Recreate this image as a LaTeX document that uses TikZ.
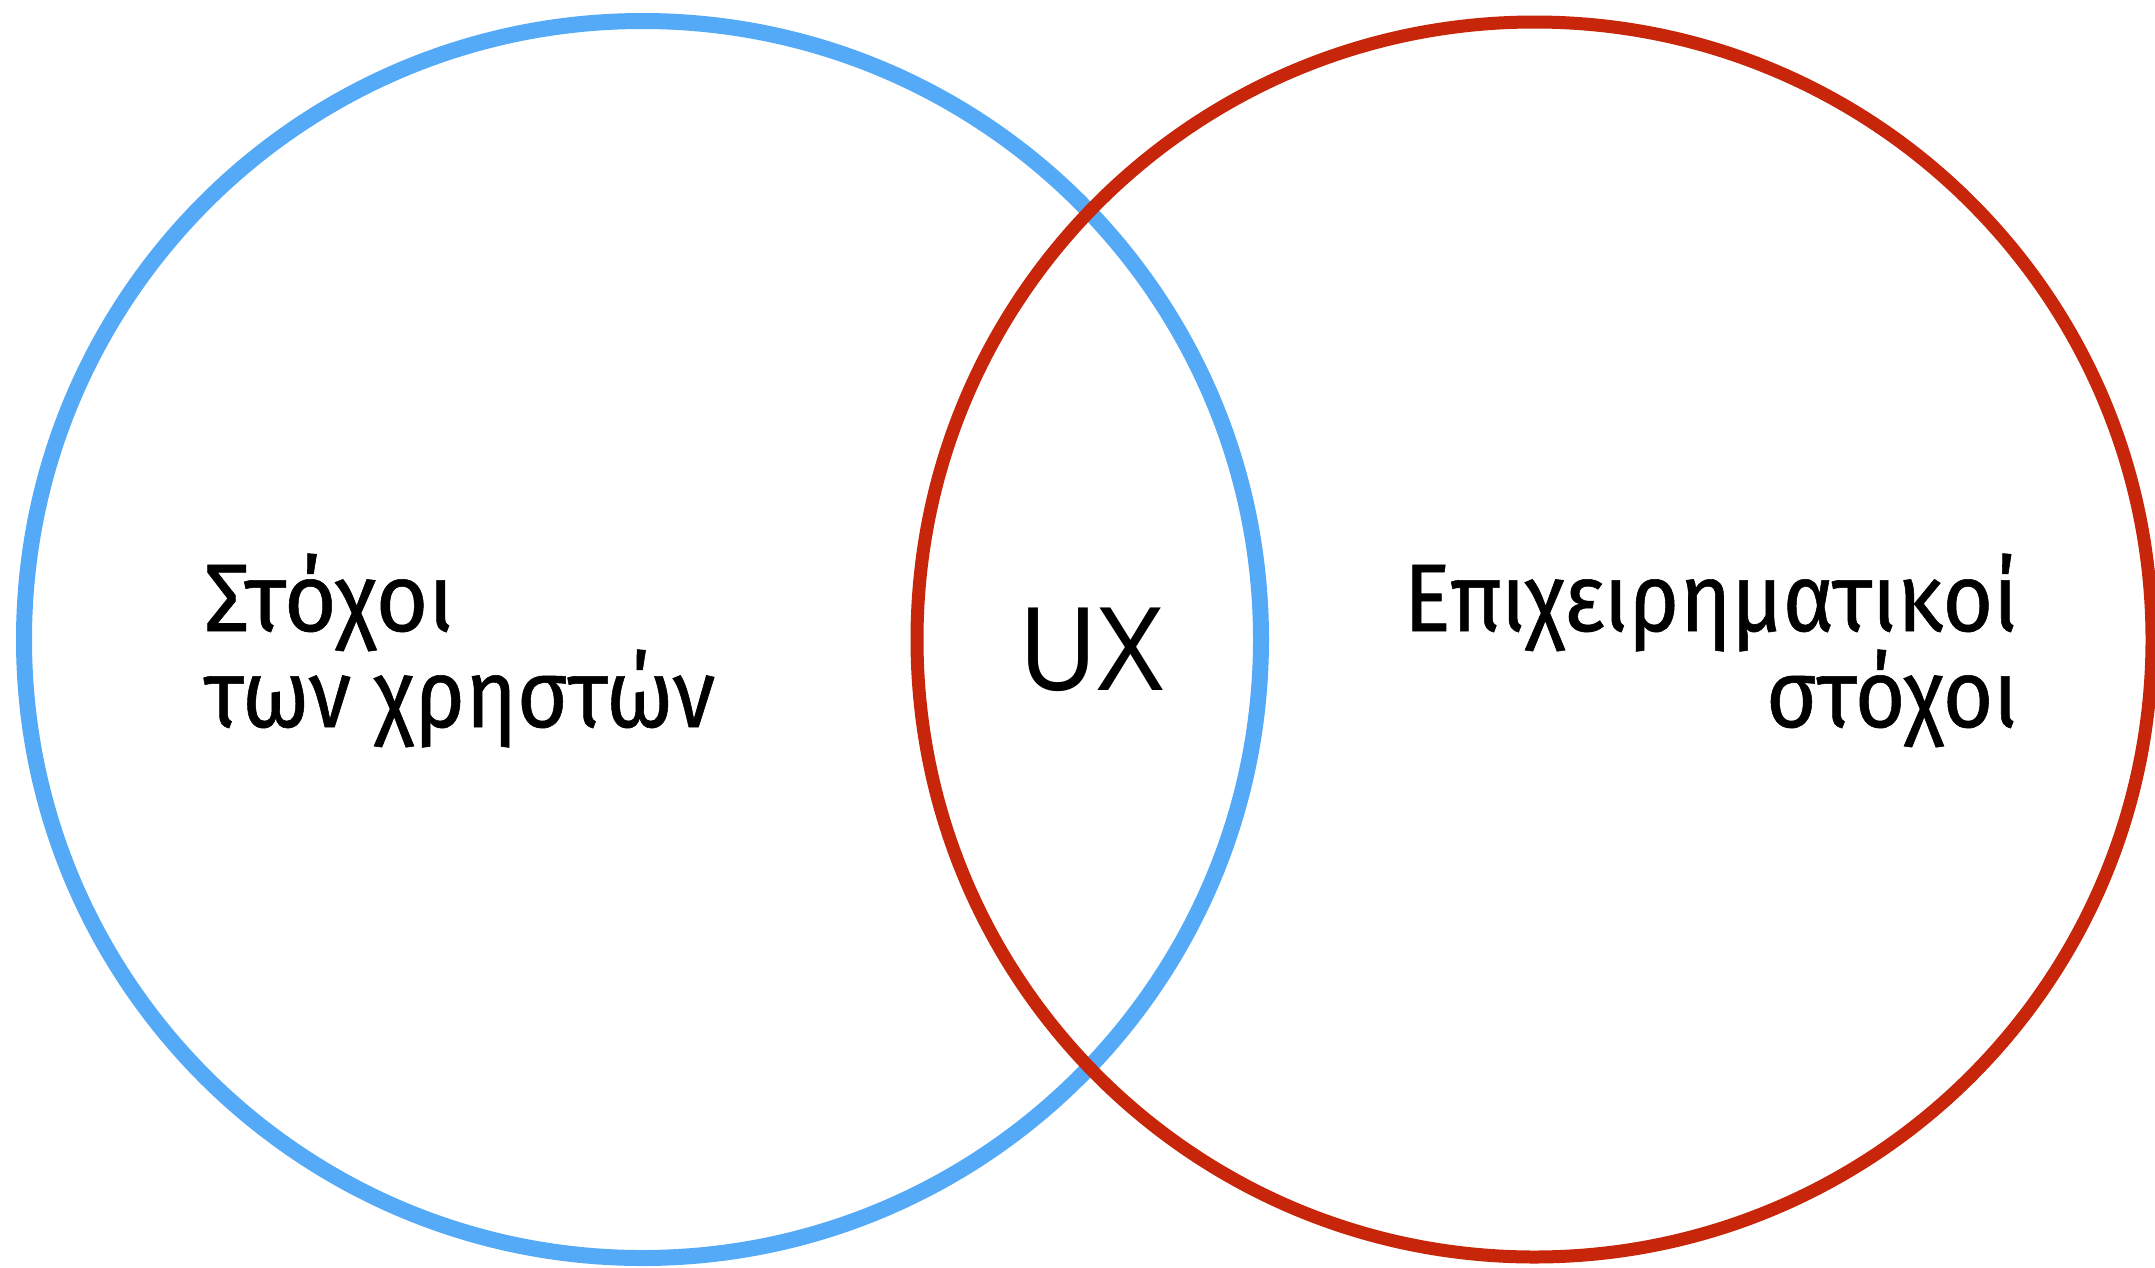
\documentclass[tikz,border=0pt]{standalone}
\usepackage{fontspec}
\usepackage{graphicx}
\newfontfamily\grfont[FakeBold=0.6]{Fira Sans}
\newfontfamily\uxfont{Liberation Sans}
\definecolor{userblue}{RGB}{85,170,248}
\definecolor{bizred}{RGB}{200,38,10}
\tikzset{
  venn/.style={circle, draw, inner sep=0pt, outer sep=0pt, minimum size=1237pt},
  txt/.style={inner sep=0pt, outer sep=0pt, font=\grfont\fontsize{96}{96}\selectfont},
  uxtxt/.style={inner sep=0pt, outer sep=0pt, font=\uxfont\fontsize{120}{120}\selectfont}
}
\begin{document}
\begin{tikzpicture}[x=1pt,y=-1pt]
\useasboundingbox (0,0) rectangle (2155,1267);
\fill[white] (0,0) rectangle (2155,1267);
\node[venn, draw=userblue, line width=16pt] (users) at (642.5,639.5) {};
\node[venn, draw=bizred, line width=13pt, minimum size=1235pt] (business) at (1534.5,639.5) {};
\node[txt, anchor=base west] (u1) at (204,631) {\resizebox{250pt}{\height}{Στόχοι}};
\node[txt, anchor=base west] (u2) at (204,727) {\resizebox{511pt}{\height}{των χρηστών}};
\node[txt, anchor=base east] (b1) at (2018,631) {\resizebox{614pt}{\height}{Επιχειρηματικοί}};
\node[txt, anchor=base east] (b2) at (2018,727) {\resizebox{252pt}{\height}{στόχοι}};
\node[uxtxt, anchor=base] (ux) at (1093,690) {\resizebox{146pt}{\height}{UX}};
\end{tikzpicture}
\end{document}
